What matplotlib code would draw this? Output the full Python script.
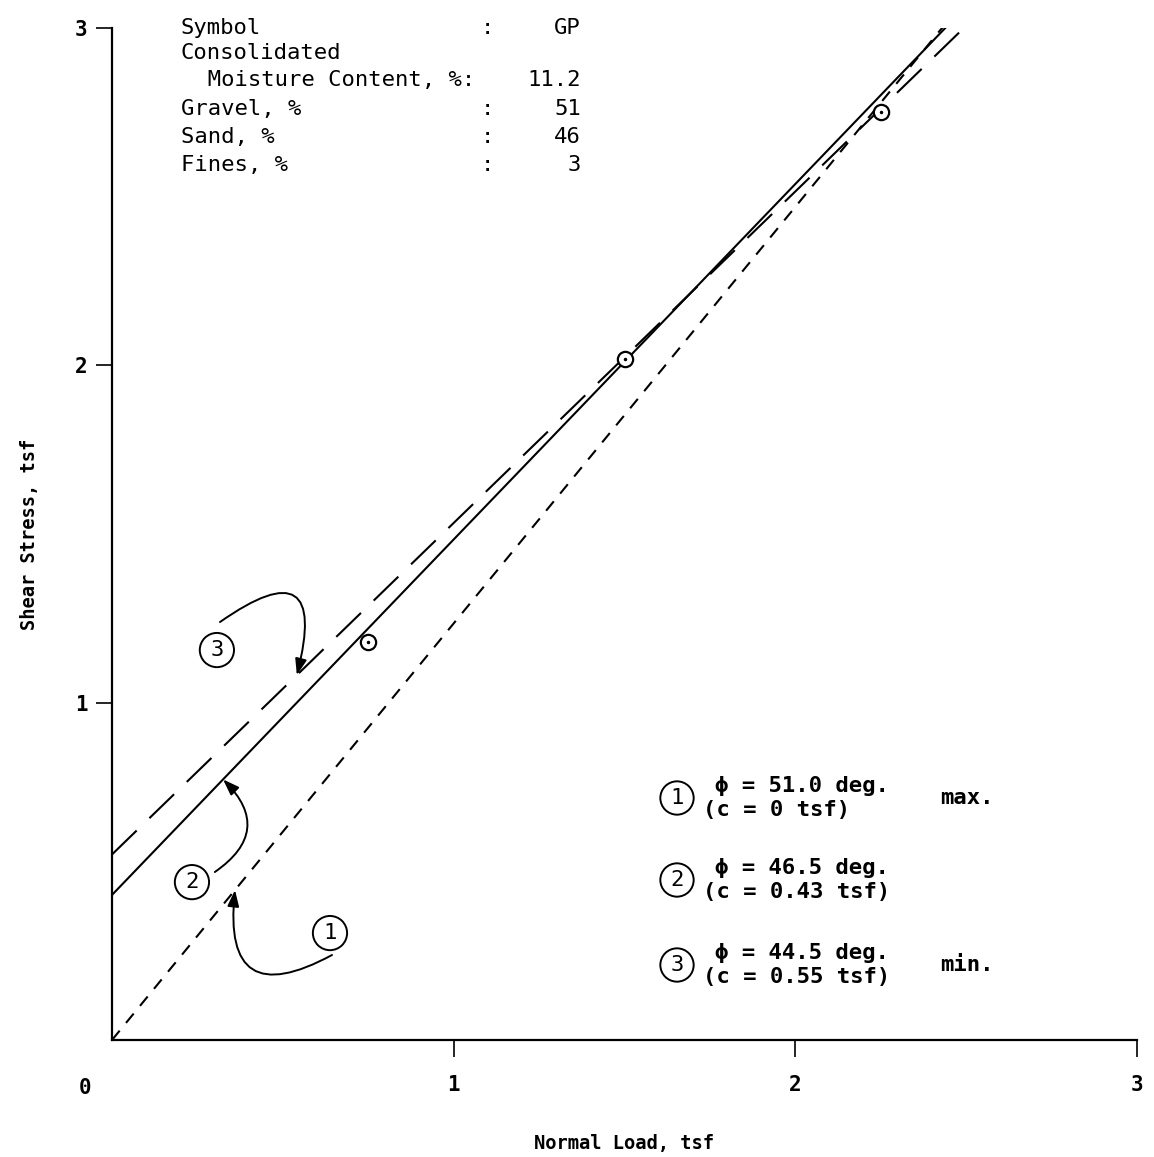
import numpy as np
import matplotlib
matplotlib.use("Agg")
import matplotlib.pyplot as plt

# test results
normal_load = [0.75, 1.50, 2.25]
shear_stress = [1.18, 2.02, 2.75]

# strength envelopes: 1 = max, 2 = fit, 3 = min
phi_deg = [51.0, 46.5, 44.5]
cohesion = [0.0, 0.43, 0.55]
env_tags = ["max.", "", "min."]

info_labels = ["Symbol", "Consolidated", "  Moisture Content, %:", "Gravel, %", "Sand, %", "Fines, %"]
info_values = ["GP", "", "11.2", "51", "46", "3"]
info_colon = [True, False, False, True, True, True]

ticks = [1, 2, 3]
tick_labels = ["1", "2", "3"]

W, H = 1154, 1157
MONO = ["DejaVu Sans Mono", "DejaVu Sans"]
plt.rcParams["font.family"] = MONO


def fx(x):
    return x / W


def fy(y):
    return 1 - y / H


fig = plt.figure(figsize=(W / 100, H / 100), dpi=100)
ax = fig.add_axes([fx(112), fy(1040), (1137 - 112) / W, (1040 - 28) / H])
ax.set_xlim(0, 3)
ax.set_ylim(0, 3)
for s in ["top", "right"]:
    ax.spines[s].set_visible(False)
for s in ["left", "bottom"]:
    ax.spines[s].set_linewidth(1.6)

ax.set_xticks(ticks)
ax.set_xticklabels(tick_labels, fontsize=15, fontweight="bold")
ax.set_yticks(ticks)
ax.set_yticklabels(tick_labels, fontsize=15, fontweight="bold")
ax.tick_params(axis="x", direction="out", length=12, width=1.2, pad=13)
ax.tick_params(axis="y", direction="out", length=11.5, width=1.2, pad=6)
fig.text(fx(85), fy(1088), "0", fontsize=15, fontweight="bold", ha="center", va="center")

ax.set_xlabel("Normal Load, tsf", fontsize=13.5, fontweight="bold", labelpad=28)
ax.set_ylabel("Shear Stress, tsf", fontsize=13.5, fontweight="bold", labelpad=26)

# envelopes
xx = np.linspace(0, 2.52, 50)
styles = [dict(dashes=(5.8, 4.8)), dict(), dict(dashes=(16.5, 8.5))]
for phi, c, st in zip(phi_deg, cohesion, styles):
    ax.plot(xx, c + np.tan(np.radians(phi)) * xx, color="black", lw=1.5, **st)

# data points
ax.plot(normal_load, shear_stress, "o", ms=11, mfc="white", mec="black", mew=1.6, zorder=5)
ax.plot(normal_load, shear_stress, ".", ms=3, color="black", zorder=6)


def on_env(i, x):
    return x, cohesion[i] + np.tan(np.radians(phi_deg[i])) * x


# circled labels with curved arrows in the plot
circ = dict(boxstyle="circle,pad=0.32", fc="white", ec="black", lw=1.4)
arrow_kw = dict(arrowstyle="-|>,head_length=0.7,head_width=0.25", color="black", lw=1.4,
                mutation_scale=14, shrinkA=0, shrinkB=0)
label_pos = [(0.638, 0.317), (0.234, 0.468), (0.307, 1.156)]
arrow_start = [(0.644, 0.252), (0.301, 0.498), (0.316, 1.239)]
arrow_x = [0.36, 0.325, 0.541]
arrow_rad = [-0.95, 0.6, -1.35]
for i in range(3):
    ax.text(*label_pos[i], str(i + 1), fontsize=16, ha="center", va="center", bbox=circ)
    ax.annotate("", xy=on_env(i, arrow_x[i]), xytext=arrow_start[i],
                arrowprops=dict(connectionstyle=f"arc3,rad={arrow_rad[i]}", **arrow_kw))

# info block
info_y = [28, 53, 80, 109, 137, 165]
for lab, val, col, y in zip(info_labels, info_values, info_colon, info_y):
    fig.text(fx(181), fy(y), lab, fontsize=16, ha="left", va="center")
    if col:
        fig.text(fx(487), fy(y), ":", fontsize=16, ha="center", va="center")
    if val:
        fig.text(fx(581), fy(y), val, fontsize=16, ha="right", va="center")

# envelope legend
leg_circle_y = [798, 880, 965]
leg_circ = dict(boxstyle="circle,pad=0.3", fc="white", ec="black", lw=1.4)
for i, y in enumerate(leg_circle_y):
    fig.text(fx(677), fy(y), str(i + 1), fontsize=16, ha="center", va="center", bbox=leg_circ)
    fig.text(fx(715), fy(y - 12), f"\u03d5 = {phi_deg[i]:.1f} deg.", fontsize=16,
             fontweight="bold", ha="left", va="center")
    fig.text(fx(703), fy(y + 12), f"(c = {cohesion[i]:g} tsf)", fontsize=16,
             fontweight="bold", ha="left", va="center")
    if env_tags[i]:
        fig.text(fx(940), fy(y), env_tags[i], fontsize=16, fontweight="bold",
                 ha="left", va="center")

fig.savefig("out.png", dpi=100)
